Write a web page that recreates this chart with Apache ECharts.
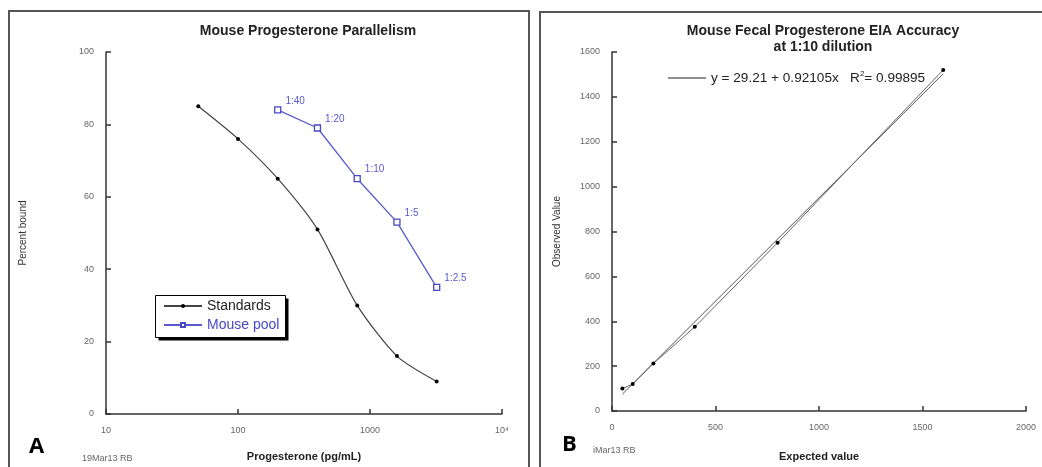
<!DOCTYPE html>
<html>
<head>
<meta charset="utf-8">
<script src="https://cdn.jsdelivr.net/npm/echarts@6/dist/echarts.min.js"></script>
<style>
html,body{margin:0;padding:0;background:#fff;}
#c{width:1042px;height:467px;}
</style>
</head>
<body>
<div id="c"></div>
<script>
// ---- Panel A data ----
const stdConc = [50, 100, 200, 400, 800, 1600, 3200];
const stdBound = [85, 76, 65, 51, 30, 16, 9];
const poolConc = [200, 400, 800, 1600, 3200];
const poolBound = [84, 79, 65, 53, 35];
const poolLabels = ['1:40', '1:20', '1:10', '1:5', '1:2.5'];
const logTickLabels = {10: '10', 100: '100', 1000: '1000', 10000: '10⁴'};

// ---- Panel B data ----
const expected = [50, 100, 200, 400, 800, 1600];
const observed = [100, 120, 212, 375, 750, 1520];
const fitX = [50, 1600];
const fitY = [75, 1503];
const fitLabel = 'y = 29.21 + 0.92105x   R{sup|2}= 0.99895';

const FONT = '"Liberation Sans", Arial, sans-serif';
const axisCol = '#333';
const labCol = '#666';
const blue = '#4747c8';

const chart = echarts.init(document.getElementById('c'), null, {renderer: 'canvas'});

function axisBase() {
  return {
    axisLine: {show: true, lineStyle: {color: axisCol, width: 1.5}},
    axisTick: {show: true, inside: true, length: 5, lineStyle: {color: axisCol, width: 1.5}},
    axisLabel: {color: labCol, fontSize: 9, fontFamily: FONT, margin: 12, formatter: v => String(v)},
    splitLine: {show: false}
  };
}

const option = {
  backgroundColor: '#fff',
  animation: false,
  title: [
    {text: 'Mouse Progesterone Parallelism', left: 303, top: 19, textAlign: 'center',
     textStyle: {fontSize: 14, fontWeight: 'bold', color: '#222', fontFamily: FONT}},
    {text: 'Mouse Fecal Progesterone EIA Accuracy\nat 1:10 dilution', left: 818, top: 18, textAlign: 'center',
     textStyle: {fontSize: 14, fontWeight: 'bold', color: '#222', fontFamily: FONT, lineHeight: 16}}
  ],
  grid: [
    {left: 106, top: 52, width: 396, height: 365},
    {left: 612, top: 52, width: 414, height: 365}
  ],
  xAxis: [
    Object.assign(axisBase(), {
      type: 'log', logBase: 10, min: 10, max: 10000, gridIndex: 0,
      name: 'Progesterone (pg/mL)', nameLocation: 'middle', nameGap: 37,
      nameTextStyle: {fontSize: 11, fontWeight: 'bold', color: '#222', fontFamily: FONT},
      minorTick: {show: false},
      axisLabel: {color: labCol, fontSize: 9, fontFamily: FONT, margin: 12,
        formatter: v => logTickLabels[Math.round(v)] || ''}
    }),
    Object.assign(axisBase(), {
      type: 'value', min: 0, max: 2000, interval: 500, gridIndex: 1,
      name: 'Expected value', nameLocation: 'middle', nameGap: 40,
      nameTextStyle: {fontSize: 11, fontWeight: 'bold', color: '#222', fontFamily: FONT}
    })
  ],
  yAxis: [
    Object.assign(axisBase(), {
      type: 'value', min: 0, max: 100, interval: 20, gridIndex: 0,
      name: 'Percent bound', nameLocation: 'middle', nameGap: 78,
      nameTextStyle: {fontSize: 10, color: '#333', fontFamily: FONT}
    }),
    Object.assign(axisBase(), {
      type: 'value', min: 0, max: 1600, interval: 200, gridIndex: 1,
      name: 'Observed Value', nameLocation: 'middle', nameGap: 50,
      nameTextStyle: {fontSize: 10, color: '#333', fontFamily: FONT}
    })
  ],
  legend: [
    {
      data: [{name: 'Standards', textStyle: {color: '#222'}}, {name: 'Mouse pool', textStyle: {color: blue}}],
      orient: 'vertical', left: 157, top: 297, itemWidth: 38, itemHeight: 5, itemGap: 5,
      padding: [2, 4, 2, 6],
      backgroundColor: 'transparent', borderWidth: 0,
      textStyle: {fontSize: 14, fontFamily: FONT}
    },
    {
      data: [{name: 'fit', icon: 'rect'}], left: 663, top: 65, itemWidth: 38, itemHeight: 1.2, itemGap: 0,
      formatter: () => fitLabel,
      itemStyle: {color: '#222'},
      textStyle: {fontSize: 13.6, color: '#222', fontFamily: FONT,
        rich: {sup: {fontSize: 8, verticalAlign: 'top', padding: [0, 0, 8, 0], color: '#222', fontFamily: FONT}}}
    }
  ],
  series: [
    {
      name: 'Standards', type: 'line', xAxisIndex: 0, yAxisIndex: 0,
      data: stdConc.map((x, i) => [x, stdBound[i]]),
      smooth: 0.25, symbol: 'circle', symbolSize: 4,
      lineStyle: {color: '#444', width: 1.2},
      itemStyle: {color: '#000'}
    },
    {
      name: 'Mouse pool', type: 'line', xAxisIndex: 0, yAxisIndex: 0,
      data: poolConc.map((x, i) => [x, poolBound[i]]),
      symbol: 'rect', symbolSize: 6,
      lineStyle: {color: '#5a5acc', width: 1.3},
      itemStyle: {color: '#fff', borderColor: blue, borderWidth: 1.3},
      label: {show: true, position: 'right', distance: 4, offset: [0, -9],
        formatter: p => poolLabels[p.dataIndex], color: '#5a5ad0', fontSize: 10, fontFamily: FONT}
    },
    {
      name: 'fit', type: 'line', xAxisIndex: 1, yAxisIndex: 1,
      data: fitX.map((x, i) => [x, fitY[i]]),
      symbol: 'none', lineStyle: {color: '#555', width: 1},
      itemStyle: {color: '#555'}
    },
    {
      name: 'observed', type: 'line', xAxisIndex: 1, yAxisIndex: 1,
      data: expected.map((x, i) => [x, observed[i]]),
      symbol: 'circle', symbolSize: 4,
      lineStyle: {color: '#666', width: 1},
      itemStyle: {color: '#000'}
    }
  ],
  graphic: [
    {type: 'rect', shape: {x: 9, y: 11, width: 520, height: 470}, style: {fill: 'none', stroke: '#555', lineWidth: 2}, z: 0},
    {type: 'rect', shape: {x: 540, y: 12, width: 520, height: 470}, style: {fill: 'none', stroke: '#555', lineWidth: 2}, z: 0},
    {type: 'rect', shape: {x: 158.5, y: 298.5, width: 130, height: 42}, style: {fill: '#000'}, z: 1},
    {type: 'rect', shape: {x: 155.5, y: 295.5, width: 130, height: 42}, style: {fill: '#fff', stroke: '#000', lineWidth: 1}, z: 2},
    {type: 'text', left: 29, top: 436, style: {text: 'A', font: 'bold 22px "Open Sans", Arial, sans-serif', fill: '#000'}},
    {type: 'text', left: 562, top: 434, style: {text: 'B', font: 'bold 22px "Open Sans", Arial, sans-serif', fill: '#000'}},
    {type: 'text', left: 82, top: 454, style: {text: '19Mar13 RB', font: '9px "Liberation Sans", Arial', fill: '#666'}},
    {type: 'text', left: 593, top: 446, style: {text: 'iMar13 RB', font: '9px "Liberation Sans", Arial', fill: '#666'}}
  ]
};
chart.setOption(option);
</script>
</body>
</html>
